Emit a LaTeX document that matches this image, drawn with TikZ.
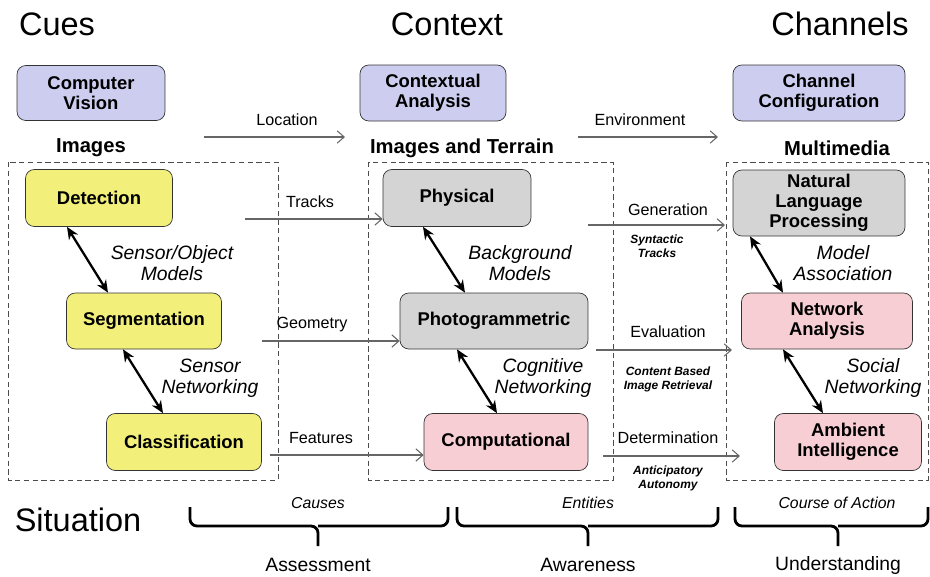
\documentclass[tikz,border=0pt]{standalone}
\usepackage{fontspec}
\setmainfont{Liberation Sans}
\usetikzlibrary{arrows.meta}
\definecolor{toolblue}{RGB}{205,205,240}
\definecolor{cueyellow}{RGB}{242,240,122}
\definecolor{ctxgray}{RGB}{212,212,212}
\definecolor{netpink}{RGB}{246,206,212}
\begin{document}
\begin{tikzpicture}[x=0.02cm, y=-0.02cm,
	box/.style={draw=black!80, rounded corners=5pt, align=center, inner sep=1pt,
		font=\fontsize{10.5}{11.5}\selectfont\bfseries},
	tool/.style={box, fill=toolblue},
	cue/.style={box, fill=cueyellow},
	ctx/.style={box, fill=ctxgray},
	net/.style={box, fill=netpink},
	head/.style={font=\fontsize{18.5}{20}\selectfont},
	media/.style={font=\fontsize{11.5}{12}\selectfont\bfseries},
	rel/.style={align=center, font=\fontsize{11}{12}\selectfont\itshape},
	tag/.style={font=\fontsize{9.2}{10}\selectfont},
	sub/.style={align=center, font=\fontsize{6.8}{8}\selectfont\bfseries\itshape},
	braceword/.style={font=\fontsize{9}{10}\selectfont\itshape},
	phase/.style={font=\fontsize{11}{12}\selectfont},
	link/.style={{Stealth[length=7pt,width=6pt]}-{Stealth[length=7pt,width=6pt]}, line width=1.3pt},
	flow/.style={-{Straight Barb[length=4pt,width=7pt]}, draw=black!60, line width=0.6pt},
	group/.style={draw=black!70, line width=0.5pt, dash pattern=on 3pt off 2pt},
	brace/.style={line width=1.6pt, rounded corners=4pt}]
	\useasboundingbox (0,0) rectangle (930,576);

\node[head] (cues) at (57,24) {Cues};
\node[head] (context) at (447,24) {Context};
\node[head] (channels) at (840,24) {Channels};
\node[head] (situation) at (78,520) {Situation};

\node[tool, minimum width=2.96cm, minimum height=1.1cm] (cv) at (91,93) {Computer\\Vision};
\node[tool, minimum width=2.92cm, minimum height=1.12cm] (ca) at (433,93) {Contextual\\Analysis};
\node[tool, minimum width=3.44cm, minimum height=1.12cm] (cc) at (819,93) {Channel\\Configuration};

\node[media] (img) at (91,148) {Images};
\node[media] (terrain) at (462,148) {Images and Terrain};
\node[media] (multi) at (837,148) {Multimedia};

\coordinate (loc1) at (204,137); \coordinate (loc2) at (345,137);
\draw[flow] (loc1)--(loc2);
\node[tag] (loc) at (287,120) {Location};
\coordinate (env1) at (578,137); \coordinate (env2) at (718,137);
\draw[flow] (env1)--(env2);
\node[tag] (env) at (640,120) {Environment};

\draw[group] (8,162) rectangle (278,480);
\draw[group] (368,162) rectangle (613,480);
\draw[group] (726,162) rectangle (928,480);

\node[cue, minimum width=2.94cm, minimum height=1.14cm] (det) at (99,198) {Detection};
\node[cue, minimum width=3.1cm, minimum height=1.12cm] (seg) at (144,321) {Segmentation};
\node[cue, minimum width=3.1cm, minimum height=1.14cm] (cls) at (184,442) {Classification};

\node[ctx, minimum width=2.96cm, minimum height=1.14cm] (phys) at (457,198) {Physical};
\node[ctx, minimum width=3.76cm, minimum height=1.12cm] (photo) at (494,321) {Photogrammetric};
\node[net, minimum width=3.28cm, minimum height=1.14cm] (comp) at (506,442) {Computational};

\node[ctx, minimum width=3.44cm, minimum height=1.32cm] (nlp) at (819,203) {Natural\\Language\\Processing};
\node[net, minimum width=3.42cm, minimum height=1.12cm] (netan) at (827,321) {Network\\Analysis};
\node[net, minimum width=2.94cm, minimum height=1.14cm] (amb) at (848,442) {Ambient\\Intelligence};

\draw[link] ([xshift=-0.64cm]det.south)--([xshift=-0.72cm]seg.north);
\draw[link] ([xshift=-0.42cm]seg.south)--([xshift=-0.42cm]cls.north);
\draw[link] ([xshift=-0.68cm]phys.south)--([xshift=-0.58cm]photo.north);
\draw[link] ([xshift=-0.74cm]photo.south)--([xshift=-0.18cm]comp.north);
\draw[link] ([xshift=-1.38cm]nlp.south)--([xshift=-0.88cm]netan.north);
\draw[link] ([xshift=-0.88cm]netan.south)--([xshift=-0.5cm]amb.north);

\node[rel] (som) at (172,263) {Sensor/Object\\Models};
\node[rel] (sn) at (210,378) {Sensor\\Networking};
\node[rel] (bm) at (520,263) {Background\\Models};
\node[rel] (cn) at (543,378) {Cognitive\\Networking};
\node[rel] (ma) at (843,263) {Model\\Association};
\node[rel] (sn2) at (873,378) {Social\\Networking};

\coordinate (trk) at (245,219);
\draw[flow] (trk)--(trk -| phys.west);
\node[tag] (trktag) at (310,202) {Tracks};
\coordinate (geo) at (262,341);
\draw[flow] (geo)--(geo -| photo.west);
\node[tag] (geotag) at (312,325) {Geometry};
\coordinate (feat) at (270,455);
\draw[flow] (feat)--(feat -| comp.west);
\node[tag] (feattag) at (321,438) {Features};

\coordinate (gen1) at (588,225); \coordinate (gen2) at (725,225);
\draw[flow] (gen1)--(gen2);
\node[tag] (gen) at (668,210) {Generation};
\node[sub] (syn) at (657,246) {Syntactic\\Tracks};
\coordinate (eva1) at (596,350); \coordinate (eva2) at (732,350);
\draw[flow] (eva1)--(eva2);
\node[tag] (eva) at (668,332) {Evaluation};
\node[sub] (cbir) at (668,379) {Content Based\\Image Retrieval};
\coordinate (dtm1) at (603,456); \coordinate (dtm2) at (740,456);
\draw[flow] (dtm1)--(dtm2);
\node[tag] (dtm) at (668,438) {Determination};
\node[sub] (aa) at (668,478) {Anticipatory\\Autonomy};

\foreach \a/\m/\b in {190/318/448, 457/588/718, 735/838/928}
{
	\draw[brace] (\a,507) |- (\m,526) -- (\m,546);
	\draw[brace] (\b,507) |- (\m,526);
}
\node[braceword] (causes) at (318,503) {Causes};
\node[braceword] (ent) at (588,503) {Entities};
\node[braceword] (coa) at (837,503) {Course of Action};
\node[phase] (assess) at (318,565) {Assessment};
\node[phase] (aware) at (588,565) {Awareness};
\node[phase] (under) at (838,565) {Understanding};

\end{tikzpicture}
\end{document}
